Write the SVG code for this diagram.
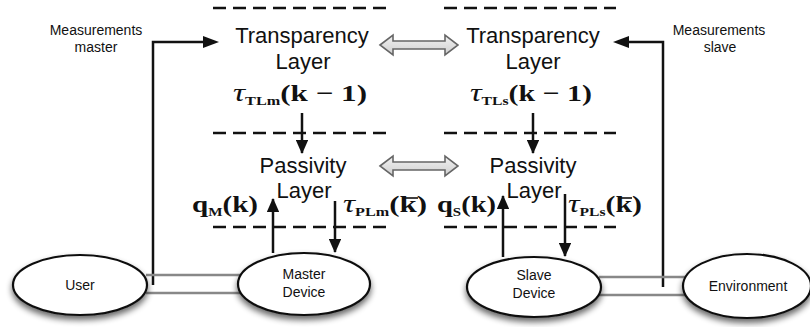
<svg xmlns="http://www.w3.org/2000/svg" width="810" height="327" viewBox="0 0 810 327">
<defs>
<style>
.lbl{font-family:"Liberation Sans",Arial,sans-serif;fill:#111;}
.big{font-size:22px;text-anchor:middle;}
.small{font-size:14px;text-anchor:middle;}
.math{font-family:"Liberation Serif","Times New Roman",serif;font-size:23px;font-weight:bold;fill:#111;}
.tau{font-style:italic;font-weight:normal;font-size:25px;}
.sub{font-size:12px;font-weight:bold;}
.dash{stroke:#111;stroke-width:2.3;stroke-dasharray:13 7;fill:none;}
.arr{stroke:#111;stroke-width:2.5;fill:none;marker-end:url(#ah);}
.meas{stroke:#111;stroke-width:2.5;fill:none;}
.gray{stroke:#888;stroke-width:2.5;fill:none;}
.ell{fill:#fff;stroke:#111;stroke-width:2.2;filter:url(#sh);}
.dbl{fill:url(#gg);stroke:#666;stroke-width:1.6;stroke-linejoin:miter;}
</style>
<marker id="ah" markerWidth="6" markerHeight="5" refX="5.2" refY="2.5" orient="auto" markerUnits="strokeWidth">
<path d="M0,0 L5.6,2.5 L0,5 Z" fill="#111"/>
</marker>
<linearGradient id="gg" x1="0" y1="0" x2="0" y2="1">
<stop offset="0" stop-color="#f2f2f2"/>
<stop offset="1" stop-color="#cfcfcf"/>
</linearGradient>
<filter id="sh" x="-20%" y="-20%" width="140%" height="160%">
<feGaussianBlur in="SourceAlpha" stdDeviation="3"/>
<feOffset dx="0" dy="4" result="b"/>
<feComponentTransfer><feFuncA type="linear" slope="0.6"/></feComponentTransfer>
<feMerge><feMergeNode/><feMergeNode in="SourceGraphic"/></feMerge>
</filter>
</defs>
<rect width="810" height="327" fill="#fff"/>

<g id="layer-boundaries">
<line class="dash" x1="213" y1="8" x2="387" y2="8"/>
<line class="dash" x1="444" y1="8" x2="616" y2="8"/>
<line class="dash" x1="213" y1="133" x2="387" y2="133"/>
<line class="dash" x1="444" y1="133" x2="616" y2="133"/>
<line class="dash" x1="213" y1="227" x2="387" y2="227"/>
<line class="dash" x1="444" y1="227" x2="616" y2="227"/>
</g>

<g id="connectors">
<polyline class="meas" points="153,285 153,42 205,42"/>
<path d="M203,36 L219,42 L203,48 Z" fill="#111"/>
<polyline class="meas" points="663,287 663,42 627,42"/>
<path d="M629,36 L613,42 L629,48 Z" fill="#111"/>
<line class="arr" x1="302" y1="113" x2="302" y2="153"/>
<line class="arr" x1="533" y1="113" x2="533" y2="153"/>
<line class="arr" x1="273" y1="253" x2="273" y2="199"/>
<line class="arr" x1="335" y1="201" x2="335" y2="252"/>
<line class="arr" x1="503" y1="257" x2="503" y2="196"/>
<line class="arr" x1="565" y1="194" x2="565" y2="256"/>
<line class="gray" x1="146" y1="275" x2="242" y2="275"/>
<line class="gray" x1="146" y1="293" x2="242" y2="293"/>
<line class="gray" x1="599" y1="277" x2="686" y2="277"/>
<line class="gray" x1="599" y1="295" x2="686" y2="295"/>
<path class="dbl" d="M380,45 L393,35 L393,41 L445,41 L445,35 L458,45 L445,55 L445,49 L393,49 L393,55 Z"/>
<path class="dbl" d="M380,166 L393,156 L393,162 L445,162 L445,156 L458,166 L445,176 L445,170 L393,170 L393,176 Z"/>
</g>

<g id="measurements-master">
<text class="lbl small" x="96" y="35">Measurements</text>
<text class="lbl small" x="96" y="52">master</text>
</g>
<g id="measurements-slave">
<text class="lbl small" x="719" y="35">Measurements</text>
<text class="lbl small" x="720" y="52">slave</text>
</g>

<g id="transparency-master">
<text class="lbl big" x="302" y="43">Transparency</text>
<text class="lbl big" x="303" y="69">Layer</text>
<text class="math" x="233" y="101" textLength="134" lengthAdjust="spacingAndGlyphs"><tspan class="tau">τ</tspan><tspan class="sub" dy="4">TLm</tspan><tspan dy="-4">(k − 1)</tspan></text>
</g>
<g id="transparency-slave">
<text class="lbl big" x="533" y="43">Transparency</text>
<text class="lbl big" x="533" y="69">Layer</text>
<text class="math" x="470" y="101" textLength="122" lengthAdjust="spacingAndGlyphs"><tspan class="tau">τ</tspan><tspan class="sub" dy="4">TLs</tspan><tspan dy="-4">(k − 1)</tspan></text>
</g>

<g id="passivity-master">
<text class="lbl big" x="303" y="173">Passivity</text>
<text class="lbl big" x="304" y="198">Layer</text>
<text class="math" x="192" y="212" textLength="66" lengthAdjust="spacingAndGlyphs">q<tspan class="sub" dy="4">M</tspan><tspan dy="-4">(k)</tspan></text>
<text class="math" x="343" y="212" textLength="84" lengthAdjust="spacingAndGlyphs"><tspan class="tau">τ</tspan><tspan class="sub" dy="4">PLm</tspan><tspan dy="-4">(k)</tspan></text>
<line x1="405" y1="198" x2="418" y2="198" stroke="#111" stroke-width="1.6"/>
</g>
<g id="passivity-slave">
<text class="lbl big" x="533" y="173">Passivity</text>
<text class="lbl big" x="534" y="198">Layer</text>
<text class="math" x="437" y="212" textLength="59" lengthAdjust="spacingAndGlyphs">q<tspan class="sub" dy="4">S</tspan><tspan dy="-4">(k)</tspan></text>
<text class="math" x="568" y="212" textLength="74" lengthAdjust="spacingAndGlyphs"><tspan class="tau">τ</tspan><tspan class="sub" dy="4">PLs</tspan><tspan dy="-4">(k)</tspan></text>
<line x1="619" y1="198" x2="632" y2="198" stroke="#111" stroke-width="1.6"/>
</g>

<g id="user">
<ellipse class="ell" cx="80" cy="285" rx="67" ry="30"/>
<text class="lbl small" x="80" y="290">User</text>
</g>
<g id="master-device">
<ellipse class="ell" cx="304" cy="284" rx="66" ry="31"/>
<text class="lbl small" x="304" y="279">Master</text>
<text class="lbl small" x="304" y="297">Device</text>
</g>
<g id="slave-device">
<ellipse class="ell" cx="534" cy="287" rx="67" ry="30"/>
<text class="lbl small" x="534" y="280">Slave</text>
<text class="lbl small" x="534" y="298">Device</text>
</g>
<g id="environment">
<ellipse class="ell" cx="747" cy="286" rx="64" ry="32"/>
<text class="lbl small" x="748" y="291">Environment</text>
</g>
</svg>
